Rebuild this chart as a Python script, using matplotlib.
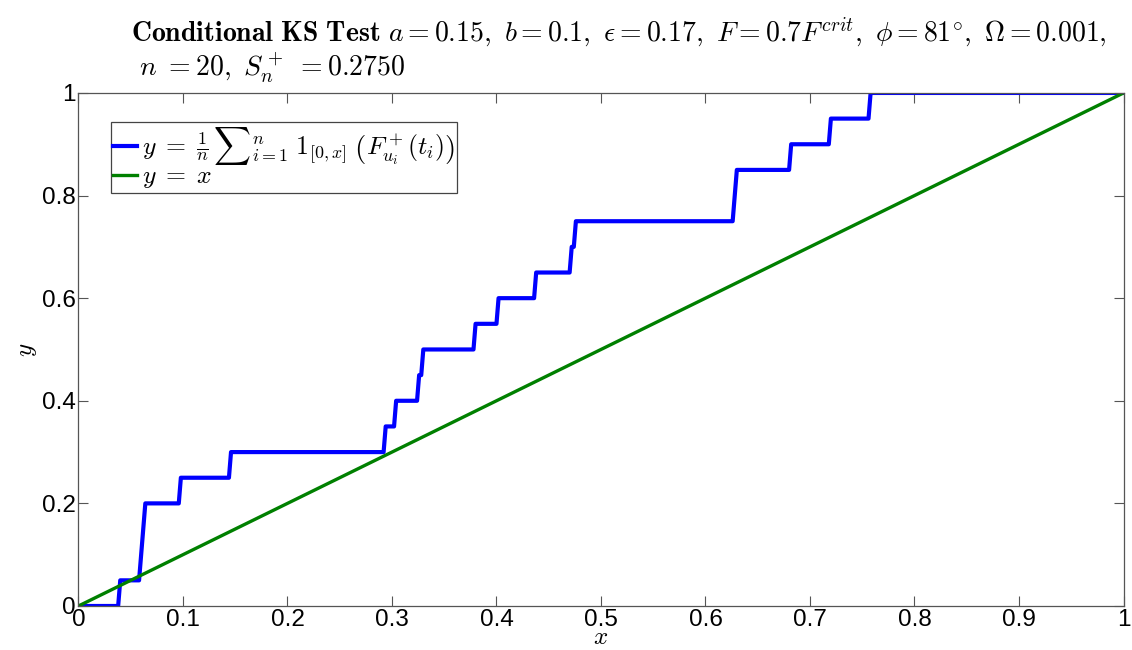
import numpy as np
import matplotlib
matplotlib.use("Agg")
import matplotlib.pyplot as plt

plt.rcParams['mathtext.fontset'] = 'cm'
plt.rcParams['font.family'] = ['Liberation Sans', 'DejaVu Sans']

# sample values F^+_{u_i}(t_i), n = 20
samples = [0.040, 0.059, 0.061, 0.063, 0.098, 0.145, 0.293, 0.304, 0.325, 0.329,
           0.379, 0.402, 0.437, 0.472, 0.475, 0.627, 0.630, 0.682, 0.719, 0.758]
grid_n = 501
xticks = [0, 0.1, 0.2, 0.3, 0.4, 0.5, 0.6, 0.7, 0.8, 0.9, 1]
xticklabels = ['0', '0.1', '0.2', '0.3', '0.4', '0.5', '0.6', '0.7', '0.8', '0.9', '1']
yticks = [0, 0.2, 0.4, 0.6, 0.8, 1]
yticklabels = ['0', '0.2', '0.4', '0.6', '0.8', '1']

xs = np.linspace(0, 1, grid_n)
s = np.sort(np.array(samples))
ecdf = np.searchsorted(s, xs, side='right') / len(s)

fig = plt.figure(figsize=(11.32, 6.5), dpi=100)
ax = fig.add_axes([0.0693, 0.0677, 0.9232, 0.7893])

ax.plot(xs, ecdf, color=(0, 0, 1), lw=3.0,
        label=r'$y\;=\;\frac{1}{n}\,{\sum}_{i=1}^{n}\;\mathbf{1}_{[0,x]}\;\left(F^+_{u_i}(t_i)\right)$')
ax.plot(xs, xs, color=(0, 0.5, 0), lw=2.4, label=r'$y\;=\;x$')

ax.set_xlim(0, 1)
ax.set_ylim(0, 1)
ax.set_xticks(xticks)
ax.set_xticklabels(xticklabels)
ax.set_yticks(yticks)
ax.set_yticklabels(yticklabels)
ax.tick_params(direction='in', length=7, width=0.8, color='#555555',
               labelsize=17.5, top=True, right=True, pad=2)
for sp in ax.spines.values():
    sp.set_color('#555555')
    sp.set_linewidth(0.9)

ax.set_xlabel(r'$x$', fontsize=18, labelpad=-4)
ax.set_ylabel(r'$y$', fontsize=18, labelpad=2)

leg = ax.legend(loc='upper left', bbox_to_anchor=(0.031, 0.943), fontsize=18.5,
                handlelength=0.9, handletextpad=0.2, borderpad=0.1,
                labelspacing=-0.1, fancybox=False, framealpha=1,
                borderaxespad=0, handleheight=0.6)
leg.get_frame().set_edgecolor('#444444')
leg.get_frame().set_linewidth(0.9)

fig.text(131 / 1132, 1 - 33 / 650,
         r'$\mathbf{Conditional\ KS\ Test}\ a=0.15,\ b=0.1,\ \epsilon=0.17,\ F=0.7F^{crit},\ \phi=81^{\circ},\ \Omega=0.001,$',
         fontsize=20, ha='left', va='center')
fig.text(131 / 1132, 1 - 68 / 650,
         r'$\ n\ \mathrm{=20},\ S_n^+\ \mathrm{=0.2750}$',
         fontsize=20, ha='left', va='center')

fig.savefig('out.png', dpi=100)
